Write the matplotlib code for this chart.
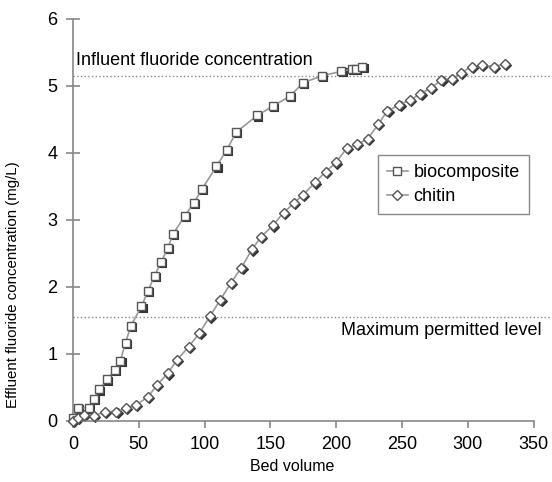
import matplotlib.pyplot as plt
from matplotlib.transforms import offset_copy

plt.rcParams['font.family'] = ['Liberation Sans', 'DejaVu Sans']

# biocomposite column
bio_bv = [0, 4, 12, 16, 20, 26, 32, 36, 40, 44, 52, 57, 62, 67, 72, 76, 85, 92, 98,
          109, 117, 124, 140, 152, 165, 175, 189, 204, 212, 215, 220]
bio_c = [0.05, 0.19, 0.20, 0.33, 0.47, 0.62, 0.76, 0.90, 1.17, 1.42, 1.71, 1.94, 2.17,
         2.37, 2.58, 2.79, 3.06, 3.26, 3.46, 3.80, 4.05, 4.31, 4.56, 4.70, 4.85, 5.05,
         5.15, 5.22, 5.25, 5.26, 5.29]

# chitin column
chi_bv = [0, 4, 8, 16, 24, 33, 40, 48, 57, 64, 72, 79, 88, 96, 104, 112, 120, 128, 136,
          143, 152, 160, 168, 175, 184, 192, 200, 208, 216, 224, 232, 239, 248, 256, 264,
          272, 280, 288, 295, 303, 311, 320, 328]
chi_c = [0.0, 0.05, 0.09, 0.07, 0.14, 0.14, 0.19, 0.24, 0.36, 0.54, 0.71, 0.91, 1.11,
         1.31, 1.56, 1.81, 2.06, 2.29, 2.56, 2.75, 2.92, 3.11, 3.25, 3.38, 3.56, 3.72,
         3.86, 4.07, 4.13, 4.21, 4.43, 4.63, 4.72, 4.79, 4.88, 4.97, 5.09, 5.10, 5.20,
         5.29, 5.31, 5.29, 5.33]

influent = 5.15
max_level = 1.55

fig = plt.figure(figsize=(5.52, 4.82), dpi=100)
ax = fig.add_axes([0.1322, 0.1266, 0.8678, 0.834])

shadow = offset_copy(ax.transData, fig=fig, x=1.2, y=-1.2, units='dots')

ax.axhline(influent, color='#888888', lw=1, ls=':', zorder=1)
ax.axhline(max_level, color='#888888', lw=1, ls=':', zorder=1)

for bv, c, m, ms in [(bio_bv, bio_c, 's', 6.3), (chi_bv, chi_c, 'D', 5.5)]:
    ax.plot(bv, c, ls='none', marker=m, ms=ms, mfc='#333333', mec='#333333', mew=0.8,
            transform=shadow, clip_on=False, zorder=2)

ax.plot(bio_bv, bio_c, color='#999999', lw=1.2, marker='s', ms=6.3, mfc='white',
        mec='#555555', mew=1, clip_on=False, zorder=3, label='biocomposite')
ax.plot(chi_bv, chi_c, color='#999999', lw=1.2, marker='D', ms=5.5, mfc='white',
        mec='#555555', mew=1, clip_on=False, zorder=3, label='chitin')

ax.text(2, 5.25, 'Influent fluoride concentration', fontsize=13, va='bottom', ha='left')
ax.text(356, 1.47, 'Maximum permitted level', fontsize=13, va='top', ha='right')

ax.set_xlim(0, 364)
ax.set_ylim(0, 6)
ax.set_xticks([0, 50, 100, 150, 200, 250, 300, 350])
ax.set_yticks([0, 1, 2, 3, 4, 5, 6])
for s in ['top', 'right']:
    ax.spines[s].set_visible(False)
for s in ['left', 'bottom']:
    ax.spines[s].set_color('#888888')
    ax.spines[s].set_linewidth(1.2)
ax.spines['bottom'].set_bounds(0, 350)
ax.tick_params(axis='x', direction='out', length=5, width=1.2, color='#888888',
               labelsize=13, pad=6)
ax.tick_params(axis='y', direction='inout', length=9.5, width=1.2, color='#888888',
               labelsize=13, pad=6.5)

ax.set_xlabel('Bed volume', fontsize=11.5)
ax.set_ylabel('Effluent fluoride concentration (mg/L)', fontsize=10.8)
ax.xaxis.set_label_coords(0.457, -0.095)
ax.yaxis.set_label_coords(-0.11, 0.34)

leg = ax.legend(loc='upper left', bbox_to_anchor=(0.636, 0.662), fontsize=13,
                fancybox=False, edgecolor='#888888', framealpha=1, handlelength=1.2,
                handletextpad=0.3, borderaxespad=0, borderpad=0.5, labelspacing=0.4)
leg.get_frame().set_linewidth(1)

fig.savefig('out.png', dpi=100)
